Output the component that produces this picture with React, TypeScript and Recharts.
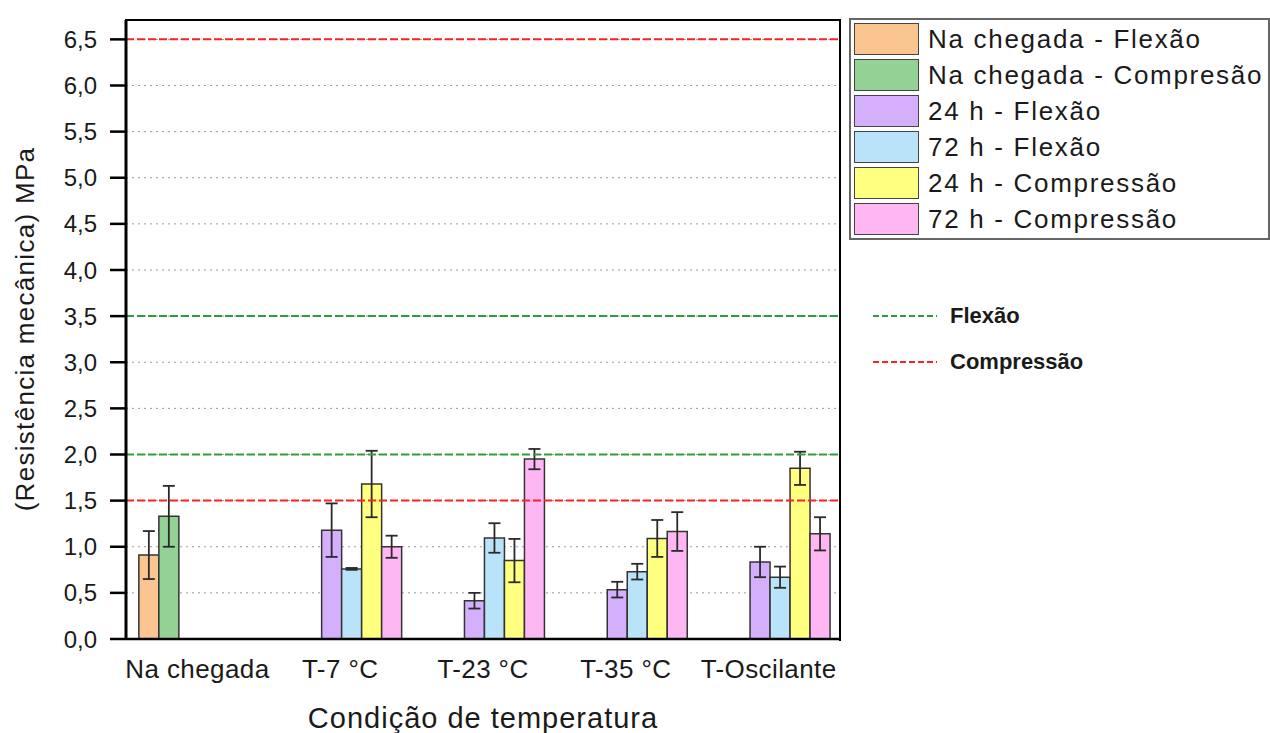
import {
  Bar,
  BarChart,
  CartesianGrid,
  ErrorBar,
  ReferenceLine,
  XAxis,
  YAxis,
} from "recharts";

const FONT = "'Liberation Sans', Arial, sans-serif";

const categories = ["Na chegada", "T-7 °C", "T-23 °C", "T-35 °C", "T-Oscilante"];

// mean values (MPa) and error (±) per temperature condition
const chegadaFlexao = [0.91, null, null, null, null];
const chegadaFlexaoErr = [0.26, null, null, null, null];
const chegadaCompressao = [1.33, null, null, null, null];
const chegadaCompressaoErr = [0.33, null, null, null, null];
const flexao24h = [null, 1.18, 0.415, 0.535, 0.835];
const flexao24hErr = [null, 0.29, 0.085, 0.085, 0.165];
const flexao72h = [null, 0.76, 1.095, 0.73, 0.67];
const flexao72hErr = [null, 0.01, 0.16, 0.085, 0.115];
const compressao24h = [null, 1.68, 0.85, 1.09, 1.85];
const compressao24hErr = [null, 0.36, 0.235, 0.2, 0.18];
const compressao72h = [null, 1.0, 1.95, 1.165, 1.14];
const compressao72hErr = [null, 0.12, 0.11, 0.21, 0.18];

const yTicks = [0, 0.5, 1, 1.5, 2, 2.5, 3, 3.5, 4, 4.5, 5, 5.5, 6, 6.5];
const Y_MAX = 6.71;

// limit lines
const flexaoLimits = [2.0, 3.5];
const compressaoLimits = [1.5, 6.5];

const series = [
  { key: "chegadaFlexao", label: "Na chegada - Flexão", color: "#FBC591", values: chegadaFlexao, errors: chegadaFlexaoErr },
  { key: "chegadaCompressao", label: "Na chegada - Compresão", color: "#93D294", values: chegadaCompressao, errors: chegadaCompressaoErr },
  { key: "flexao24h", label: "24 h - Flexão", color: "#D4AFFB", values: flexao24h, errors: flexao24hErr },
  { key: "flexao72h", label: "72 h - Flexão", color: "#B8E3F9", values: flexao72h, errors: flexao72hErr },
  { key: "compressao24h", label: "24 h - Compressão", color: "#FFFF80", values: compressao24h, errors: compressao24hErr },
  { key: "compressao72h", label: "72 h - Compressão", color: "#FFB7F4", values: compressao72h, errors: compressao72hErr },
];

const data = categories.map((name, i) => {
  const row: Record<string, string | number | null> = { name };
  series.forEach((s) => {
    row[s.key] = s.values[i];
    row[s.key + "Err"] = s.errors[i];
  });
  return row;
});

const fmt = (v: number) => v.toFixed(1).replace(".", ",");

export default function App() {
  return (
    <div style={{ position: "absolute", left: 0, top: 0, width: 1270, height: 733, background: "#fff", fontFamily: FONT, color: "#1a1a1a" }}>
      <BarChart
        width={1270}
        height={733}
        data={data}
        margin={{ top: 20, right: 430, left: 40, bottom: 44 }}
        barCategoryGap="9%"
        barGap={0}
      >
        <CartesianGrid vertical={false} stroke="#9a9a9a" strokeDasharray="2 4" />
        <XAxis
          dataKey="name"
          height={50}
          tickSize={0}
          tickMargin={21}
          axisLine={{ stroke: "#000", strokeWidth: 2.5 }}
          tickLine={false}
          tick={{ fontSize: 26, fill: "#1a1a1a", fontFamily: FONT, letterSpacing: 0.4 }}
          interval={0}
        />
        <YAxis
          width={86}
          domain={[0, Y_MAX]}
          ticks={yTicks}
          tickFormatter={fmt}
          tickSize={16}
          tickMargin={13}
          axisLine={{ stroke: "#000", strokeWidth: 3 }}
          tickLine={{ stroke: "#000", strokeWidth: 2.5 }}
          tick={{ fontSize: 24, fill: "#1a1a1a", fontFamily: FONT }}
        />
        {series.map((s) => (
          <Bar
            key={s.key}
            dataKey={s.key}
            fill={s.color}
            stroke="#333"
            strokeWidth={1.5}
            isAnimationActive={false}
          >
            <ErrorBar dataKey={s.key + "Err"} width={6} stroke="#2a2a2a" strokeWidth={1.8} direction="y" />
          </Bar>
        ))}
        {flexaoLimits.map((v) => (
          <ReferenceLine key={"f" + v} y={v} stroke="#2E9E3A" strokeWidth={2} strokeDasharray="8 3" />
        ))}
        {compressaoLimits.map((v) => (
          <ReferenceLine key={"c" + v} y={v} stroke="#FF2020" strokeWidth={2} strokeDasharray="8 3" />
        ))}
      </BarChart>

      {/* top and right edges of the plot frame */}
      <div style={{ position: "absolute", left: 125, top: 19, width: 714, height: 620, borderTop: "2.5px solid #000", borderRight: "2.5px solid #000", pointerEvents: "none" }} />

      {/* axis titles */}
      <div
        style={{
          position: "absolute",
          left: 25,
          top: 329,
          transform: "translate(-50%, -50%) rotate(-90deg)",
          whiteSpace: "nowrap",
          fontSize: 26,
          letterSpacing: 1.3,
          lineHeight: 1,
        }}
      >
        (Resistência mecânica) MPa
      </div>
      <div
        style={{
          position: "absolute",
          left: 483,
          top: 704,
          transform: "translateX(-50%)",
          whiteSpace: "nowrap",
          fontSize: 29,
          letterSpacing: 1,
          lineHeight: 1,
        }}
      >
        Condição de temperatura
      </div>

      {/* series legend */}
      <div style={{ position: "absolute", left: 849, top: 18, width: 421, height: 222, border: "2px solid #666", boxSizing: "border-box", background: "#fff" }}>
        {series.map((s, i) => (
          <div key={s.key} style={{ position: "absolute", left: 3, top: 3 + i * 36, height: 32, display: "flex", alignItems: "center", whiteSpace: "nowrap" }}>
            <div style={{ width: 63, height: 30, background: s.color, border: "1.5px solid #444" }} />
            <span style={{ marginLeft: 9, fontSize: 26, letterSpacing: 1.7, lineHeight: 1 }}>{s.label}</span>
          </div>
        ))}
      </div>

      {/* limit line legend */}
      {[
        { label: "Flexão", color: "#2E9E3A", y: 316 },
        { label: "Compressão", color: "#FF2020", y: 362 },
      ].map((r) => (
        <div key={r.label} style={{ position: "absolute", left: 873, top: r.y - 14, height: 28, display: "flex", alignItems: "center" }}>
          <svg width={64} height={4}>
            <line x1={0} y1={2} x2={64} y2={2} stroke={r.color} strokeWidth={2} strokeDasharray="6 3" />
          </svg>
          <span style={{ marginLeft: 13, fontSize: 22, fontWeight: "bold", lineHeight: 1 }}>{r.label}</span>
        </div>
      ))}
    </div>
  );
}
